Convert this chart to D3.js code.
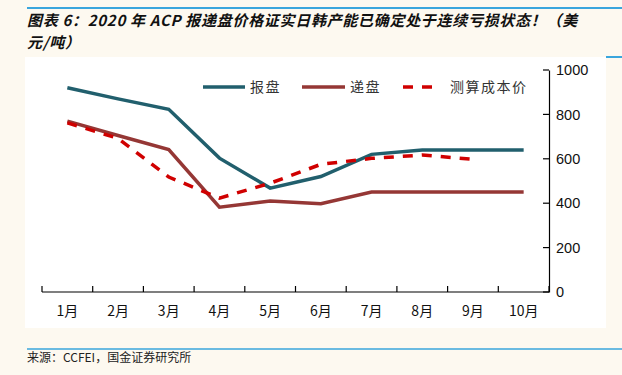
<!DOCTYPE html>
<html><head><meta charset="utf-8">
<script src="https://cdn.jsdelivr.net/npm/d3@7/dist/d3.min.js"></script>
<style>html,body{margin:0;padding:0;background:#fdf9f0;}svg{display:block;}</style>
</head><body>
<svg id="c" width="622" height="375"></svg>
<script>
const months = ["1月","2月","3月","4月","5月","6月","7月","8月","9月","10月"];
const offer = [920, 870, 823, 603, 468, 520, 620, 640, 640, 640];
const bid = [770, 705, 642, 382, 410, 398, 450, 450, 450, 450];
const cost = [762, 692, 518, 423, 490, 575, 602, 617, 598];
const yTicks = [0, 200, 400, 600, 800, 1000];
const seriesNames = ["报盘", "递盘", "测算成本价"];

const svg = d3.select("#c");
const cjk = "'Noto Sans CJK SC','Noto Sans',sans-serif";
const latin = "'Liberation Sans',Arial,sans-serif";

// top blue line
svg.append("line").attr("x1",27).attr("x2",622).attr("y1",8).attr("y2",8).attr("stroke","#3aa6dd").attr("stroke-width",2);
// title
const t = svg.append("text").attr("font-family",cjk).attr("font-size",15).attr("font-weight","bold").attr("font-style","italic").attr("fill","#111").attr("letter-spacing","0.7px");
t.append("tspan").attr("x",27).attr("y",26).text("图表 6：2020 年 ACP 报递盘价格证实日韩产能已确定处于连续亏损状态！（美");
t.append("tspan").attr("x",27).attr("y",48).text("元/吨）");

// white panel
svg.append("rect").attr("x",25).attr("y",57).attr("width",581).attr("height",271).attr("fill","#ffffff");
svg.append("line").attr("x1",606).attr("x2",622).attr("y1",57).attr("y2",57).attr("stroke","#3aa6dd").attr("stroke-width",2);

const x = d3.scaleBand().domain(months).range([42, 549]);
const y = d3.scaleLinear().domain([0, 1000]).range([292, 70]);
const cx = m => x(m) + x.bandwidth()/2;

// x axis
const xa = svg.append("g").attr("transform","translate(0,292)")
  .call(d3.axisBottom(x).tickSize(0).tickPadding(14));
xa.select(".domain").remove();
xa.selectAll("text").attr("font-family",cjk).attr("font-size",14).attr("fill","#111");
svg.append("line").attr("x1",42).attr("x2",549).attr("y1",292).attr("y2",292).attr("stroke","#000").attr("stroke-width",1.2);
const bounds = months.map(m => x(m)).concat([549]);
svg.append("g").selectAll("line").data(bounds).join("line")
  .attr("x1",d=>d).attr("x2",d=>d).attr("y1",292).attr("y2",286).attr("stroke","#000").attr("stroke-width",1.2);

// y axis (right)
const ya = svg.append("g").attr("transform","translate(549,0)")
  .call(d3.axisRight(y).tickValues(yTicks).tickFormat(d3.format("d")).tickSize(0).tickPadding(7));
ya.select(".domain").attr("stroke","#000").attr("stroke-width",1.2);
ya.selectAll("text").attr("font-family",latin).attr("font-size",14.5).attr("fill","#111");
svg.append("g").selectAll("line").data(yTicks).join("line")
  .attr("x1",549).attr("x2",543).attr("y1",d=>y(d)).attr("y2",d=>y(d)).attr("stroke","#000").attr("stroke-width",1.2);

const line = d3.line().x((d,i)=>cx(months[i])).y(d=>y(d));
const colors = ["#215f6d", "#953735", "#d00000"];
svg.append("path").attr("d", line(offer)).attr("fill","none").attr("stroke",colors[0]).attr("stroke-width",3.5);
svg.append("path").attr("d", line(bid)).attr("fill","none").attr("stroke",colors[1]).attr("stroke-width",3.5);
svg.append("path").attr("d", line(cost)).attr("fill","none").attr("stroke",colors[2]).attr("stroke-width",3.5).attr("stroke-dasharray","10,9");

// legend
const lg = [{x1:203,x2:245,tx:250},{x1:302,x2:345,tx:350},{x1:403,x2:433,tx:450}];
lg.forEach((l,i)=>{
  const ln = svg.append("line").attr("x1",l.x1).attr("x2",l.x2).attr("y1",87).attr("y2",87).attr("stroke",colors[i]).attr("stroke-width",3.5);
  if(i===2) ln.attr("stroke-dasharray","10,9");
  svg.append("text").attr("x",l.tx).attr("y",92).attr("font-family",cjk).attr("font-size",14).attr("fill","#333").attr("letter-spacing","1.5px").text(seriesNames[i]);
});

// bottom
svg.append("line").attr("x1",27).attr("x2",622).attr("y1",349).attr("y2",349).attr("stroke","#3aa6dd").attr("stroke-width",1.5);
svg.append("text").attr("x",27).attr("y",362).attr("font-family",cjk).attr("font-size",12).attr("fill","#222").text("来源：CCFEI，国金证券研究所");
</script>
</body></html>
